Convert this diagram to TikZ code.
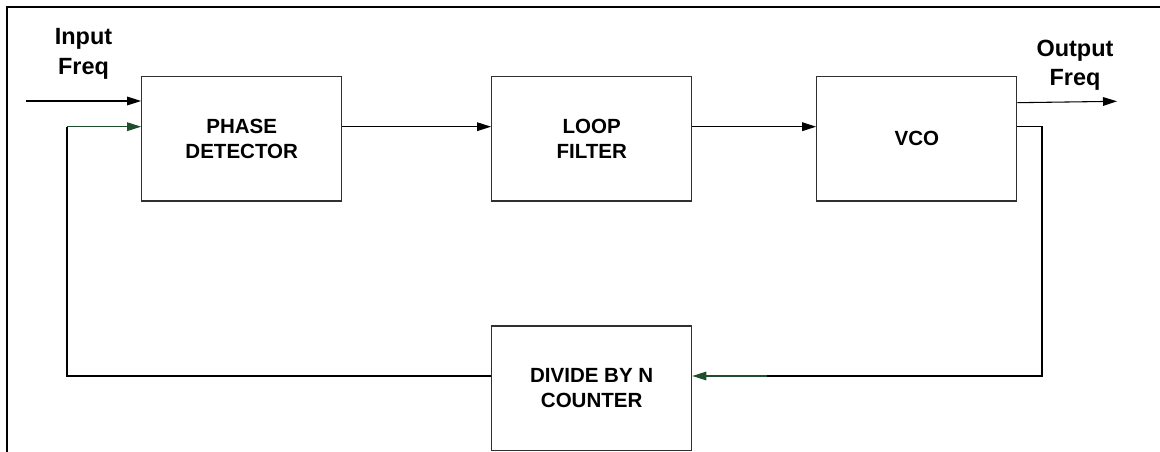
\documentclass[tikz,border=0pt]{standalone}
\usepackage{fontspec}
\setmainfont{Liberation Sans}
\usetikzlibrary{arrows.meta}
\definecolor{fbgreen}{HTML}{1F4E2C}
\definecolor{boxgray}{HTML}{303030}
\tikzset{
  blk/.style={draw=boxgray, line width=1pt, minimum width=150pt, minimum height=93.5pt,
    inner sep=0pt, align=center, font=\bfseries\fontsize{15.4}{18.4}\selectfont},
  lbl/.style={anchor=base, inner sep=0pt, font=\bfseries\fontsize{17.6}{22}\selectfont},
  conn/.style={line width=0.8pt, draw=black},
  arr/.style={conn, -{Triangle[length=10.5pt, width=6.5pt]}},
  garr/.style={line width=0.8pt, draw=fbgreen, -{Triangle[length=10.5pt, width=6.5pt, fill=fbgreen]}},
  frame/.style={line width=2pt, draw=black}
}
\begin{document}
\begin{tikzpicture}[x=0.75pt, y=-0.75pt]
\useasboundingbox (0,0) rectangle (1160,452);
% frame (top and left)
\coordinate (fTL) at (7,7);
\coordinate (fTR) at (1160,7);
\coordinate (fBL) at (7,452);
\draw[frame] (fTR) -- (fTL) -- (fBL);

% blocks
\node[blk] (pd)  at (241.75,138.75) {PHASE\\DETECTOR};
\node[blk] (lf)  at (591.7,138.75) {LOOP\\FILTER};
\node[blk] (vco) at (916.8,138.75) {VCO};
\node[blk] (div) at (591.7,388.3) {DIVIDE BY N\\COUNTER};

% rows
\coordinate (r1) at (0,101);
\coordinate (r2) at (0,126.7);
\coordinate (r3) at (0,102.7);

% labels
\node[lbl] (in1) at (83.5,44.3) {Input};
\node[lbl] (in2) at (83.5,75) {Freq};
\node[lbl] (out1) at (1075,56.5) {Output};
\node[lbl] (out2) at (1075,86) {Freq};

% input arrow
\coordinate (inS) at (26,101);
\draw[arr] (inS) -- (pd.west |- inS);

% forward path
\draw[arr] (pd.east |- r2) -- (lf.west |- r2);
\draw[arr] (lf.east |- r2) -- (vco.west |- r2);

% output arrow
\coordinate (outE) at (1117,101.3);
\draw[arr] (vco.east |- r3) -- (outE);

% feedback from VCO to divider
\coordinate (fbR) at (1042,376);
\coordinate (fbG) at (767,376);
\draw[conn] (vco.east |- r2) -- (fbR |- r2) -- (fbR) -- (fbG);
\draw[garr] (fbG) -- (div.east |- fbG);

% feedback from divider to phase detector
\coordinate (fbL) at (67,376);
\draw[conn] (div.west |- fbL) -- (fbL) -- (fbL |- r2);
\draw[garr] (fbL |- r2) -- (pd.west |- r2);
\end{tikzpicture}
\end{document}
